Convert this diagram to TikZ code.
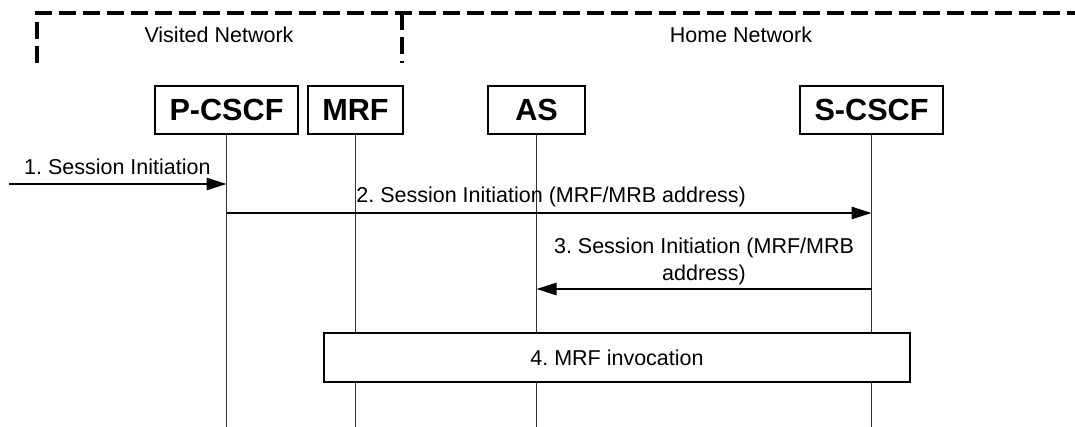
\documentclass[tikz,border=0pt]{standalone}
\usepackage{fontspec}
\setmainfont{Liberation Sans}
\usetikzlibrary{arrows.meta}
\begin{document}
\frenchspacing
\begin{tikzpicture}[x=0.5pt,y=-0.5pt,
  entity/.style={draw=black,line width=0.6pt,fill=white,inner sep=0pt,
    minimum height=24pt,font=\fontsize{15.3}{18}\selectfont\bfseries},
  lifeline/.style={draw=black!80,line width=0.5pt},
  msg/.style={draw=black,line width=0.7pt,-{Triangle[length=10pt,width=6.2pt]}},
  lbl/.style={inner sep=0pt,font=\fontsize{10.75}{13}\selectfont},
  netline/.style={draw=black,line width=1.7pt,dash pattern=on 8.5pt off 3.5pt},
  procbox/.style={draw=black,line width=0.6pt,fill=white,inner sep=0pt,
    minimum width=293pt,minimum height=24.5pt,font=\fontsize{10.75}{13}\selectfont}]
\useasboundingbox (0,0) rectangle (1075,427);

% network boundaries
\draw[netline] (37,63) -- (37,13) -- (1085,13);
\draw[netline] (402,13) -- (402,63);
\node[lbl,anchor=base] (visited) at (219,42.5) {Visited Network};
\node[lbl,anchor=base] (home) at (741,42.5) {Home Network};

% entities
\node[entity,minimum width=71.5pt] (pcscf) at (226.5,110) {P-CSCF};
\node[entity,minimum width=47.5pt] (mrf) at (355.5,110) {MRF};
\node[entity,minimum width=48.5pt] (as) at (536.5,110) {AS};
\node[entity,minimum width=71.5pt] (scscf) at (871.5,110) {S-CSCF};

% lifelines
\coordinate (bottom) at (0,427);
\draw[lifeline] (pcscf.south) -- (pcscf.south |- bottom);
\draw[lifeline] (mrf.south) -- (mrf.south |- bottom);
\draw[lifeline] (as.south) -- (as.south |- bottom);
\draw[lifeline] (scscf.south) -- (scscf.south |- bottom);

% 1. Session Initiation
\coordinate (src) at (9,184);
\coordinate (p1) at (pcscf.south |- src);
\draw[msg] (src) -- (p1);
\node[lbl,anchor=base east] (l1) at (211,175) {1. Session Initiation};

% 2. Session Initiation towards S-CSCF
\coordinate (y2) at (0,213);
\coordinate (p2) at (pcscf.south |- y2);
\coordinate (s2) at (scscf.south |- y2);
\draw[msg] (p2) -- (s2);
\node[lbl,anchor=base west] (l2) at (356,203) {2. Session Initiation (MRF/MRB address)};

% 3. Session Initiation towards AS
\coordinate (y3) at (0,289);
\coordinate (s3) at (scscf.south |- y3);
\coordinate (a3) at (as.south |- y3);
\draw[msg] (s3) -- (a3);
\node[lbl,anchor=base] (l3a) at (704,254) {3. Session Initiation (MRF/MRB};
\node[lbl,anchor=base] (l3b) at (704,280) {address)};

% 4. MRF invocation
\node[procbox] (inv) at (617,357.5) {4. MRF invocation};
\end{tikzpicture}
\end{document}
